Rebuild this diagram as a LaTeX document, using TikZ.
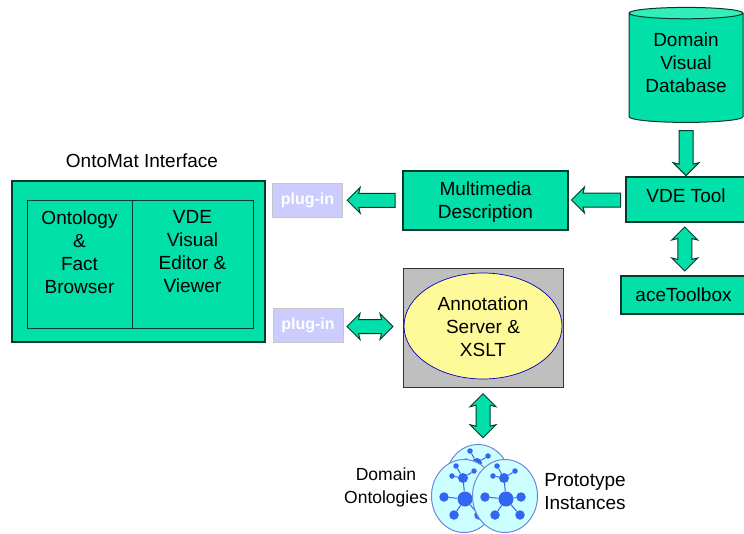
\documentclass[tikz,border=0pt]{standalone}
\usepackage{fontspec}
\setmainfont{Liberation Sans}
\usepackage{tikz}
\usetikzlibrary{shapes.geometric,shapes.arrows}

\definecolor{vdegreen}{HTML}{00E0A8}
\definecolor{vdetop}{HTML}{33EEBB}
\definecolor{vdeline}{HTML}{063A2C}
\definecolor{plugfill}{HTML}{CCCCFF}
\definecolor{netfill}{HTML}{CCFFFF}
\definecolor{netline}{HTML}{6C88DC}
\definecolor{nethub}{HTML}{3366F0}

% one ontology disc with its little network, centre at #2,#3
\newcommand{\ontonet}[3]{%
\begin{scope}[shift={(#2,#3)}]
\node[netdisc] (#1) at (0,0) {};
\node[netdot,minimum size=15pt] (#1hub) at (1,3) {};
\node[netdot,minimum size=10pt] (#1top) at (-1,-18) {};
\foreach \name/\dx/\dy in {w/-20/1,e/16/1,sw/-10/19,se/15/19} {
  \node[netdot,minimum size=9.5pt] (#1\name) at (\dx,\dy) {};
  \draw[netlink] (#1hub) -- (#1\name);
}
\foreach \name/\dx/\dy in {a/-12/-20,b/10/-25,c/-8/-30} {
  \node[netdot,minimum size=5.5pt] (#1\name) at (\dx,\dy) {};
  \draw[netlink] (#1top) -- (#1\name);
}
\draw[netlink] (#1hub) -- (#1top);
\end{scope}}

\begin{document}
\begin{tikzpicture}[x=1pt,y=-1pt,
    every node/.style={font=\fontsize{19}{23}\selectfont,align=center,inner sep=0pt},
    box/.style={draw=vdeline,line width=1.1pt,fill=vdegreen},
    cell/.style={draw=vdeline,line width=0.9pt,fill=vdegreen},
    plugbox/.style={draw=black!22,line width=1pt,fill=plugfill,text=white,minimum width=70pt,minimum height=34pt,
      font=\fontsize{16}{20}\bfseries\selectfont},
    blockarrow/.style={shape=single arrow,draw=vdeline,line width=1pt,fill=vdegreen,inner sep=6.5pt,
      single arrow head extend=6pt,single arrow head indent=1.5pt},
    twoarrow/.style={shape=double arrow,draw=vdeline,line width=1pt,fill=vdegreen,inner sep=6.5pt,
      double arrow head extend=6pt,double arrow head indent=1.5pt},
    netdisc/.style={shape=ellipse,draw=netline,line width=1pt,fill=netfill,minimum width=65pt,minimum height=73pt},
    netdot/.style={shape=circle,fill=nethub},
    netlink/.style={draw=nethub,line width=1pt}]
\clip (0,0) rectangle (744,533);
\fill[white] (0,0) rectangle (744,533);

\node (ontotitle) at (142,161) {OntoMat Interface};
\node[box,minimum width=253pt,minimum height=161pt] (ontomat) at (138.5,261.5) {};
\node[cell,minimum width=105pt,minimum height=128pt] (browser) at (79.5,264) {};
\node[cell,minimum width=121pt,minimum height=128pt] (editor) at (192.5,264) {};
\node (browsertext) at (79.5,252) {Ontology\\\&\\Fact\\Browser};
\node (editortext) at (192.5,252) {VDE\\Visual\\Editor \&\\Viewer};

\node[plugbox] (plugtop) at (307.5,200) {plug-in};
\node[plugbox] (plugbot) at (308,325.5) {plug-in};
\node[box,minimum width=165pt,minimum height=59pt,text depth=0pt] (media) at (485.5,200.5) {Multimedia\\Description};
\node[draw=black!80,line width=0.9pt,fill=black!25,minimum width=160pt,minimum height=119pt] (server) at (483,327.5) {};
\node[shape=ellipse,draw=blue!70!black,line width=0.7pt,fill=yellow!40,minimum width=158pt,minimum height=106pt] (xslt) at (483,326) {};
\node (xslttext) at (483,327) {Annotation\\Server \&\\XSLT};

\node[shape=cylinder,shape border rotate=90,aspect=0.14,draw=vdeline,line width=1pt,
      cylinder uses custom fill,cylinder body fill=vdegreen,cylinder end fill=vdetop,
      minimum width=114pt,minimum height=115pt] (database) at (686,68)
      {\phantom{Database}\\\phantom{Database}\\\phantom{Database}};
\node (databasetext) at (686,63) {Domain\\Visual\\Database};
\node[box,minimum width=120pt,minimum height=45pt,text depth=8pt] (vde) at (686,199.5) {VDE Tool};
\node[box,minimum width=125pt,minimum height=38pt] (ace) at (683.5,295) {aceToolbox};

\ontonet{netback}{478}{481}
\ontonet{netleft}{464}{496}
\ontonet{netright}{505}{496}
\node[font=\fontsize{17.5}{23}\selectfont] (domonto) at (386,487) {Domain\\Ontologies};
\node (prototype) at (585,492) {Prototype\\Instances};

\path (database.south) -- node[blockarrow,shape border rotate=270,minimum height=45pt] (dbarrow) {} (vde.north);
\path (vde.west) -- node[blockarrow,shape border rotate=180,minimum height=49pt,xshift=2.5pt] (vdearrow) {} (media.east);
\path (media.west) -- node[blockarrow,shape border rotate=180,minimum height=48pt,xshift=2pt] (mediaarrow) {} (plugtop.east);
\path (vde.south) -- node[twoarrow,shape border rotate=90,minimum height=44pt] (acearrow) {} (ace.north);
\path (plugbot.east) -- node[twoarrow,minimum height=46pt,xshift=-3pt] (plugarrow) {} (server.west);
\path (server.south) -- node[twoarrow,shape border rotate=90,minimum height=44pt,xshift=2.5pt] (netarrow) {} (netback.north);
\end{tikzpicture}
\end{document}
